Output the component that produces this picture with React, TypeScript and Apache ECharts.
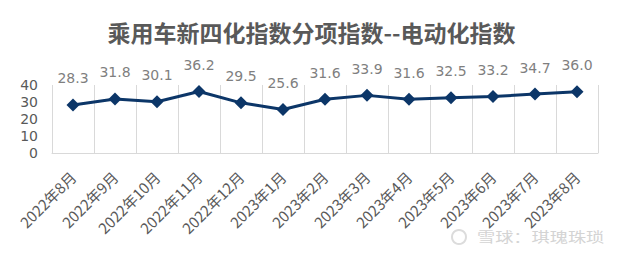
import React, { useEffect, useRef } from "react";
import * as echarts from "echarts";

const categories = [
  "2022年8月", "2022年9月", "2022年10月", "2022年11月", "2022年12月",
  "2023年1月", "2023年2月", "2023年3月", "2023年4月", "2023年5月",
  "2023年6月", "2023年7月", "2023年8月",
];
const values = [28.3, 31.8, 30.1, 36.2, 29.5, 25.6, 31.6, 33.9, 31.6, 32.5, 33.2, 34.7, 36.0];
const title = "乘用车新四化指数分项指数--电动化指数";
const watermark = "雪球：琪瑰珠琐";

export default function App() {
  const ref = useRef<HTMLDivElement>(null);
  useEffect(() => {
    if (!ref.current) return;
    const chart = echarts.init(ref.current, null, { renderer: "svg" });
    chart.setOption({
      animation: false,
      backgroundColor: "#ffffff",
      title: {
        text: title,
        left: "center",
        top: 15,
        textStyle: {
          fontFamily: "Noto Sans CJK SC",
          fontSize: 23,
          fontWeight: "bold",
          color: "#595959",
        },
      },
      grid: { left: 52, right: 25, top: 85, bottom: 102 },
      xAxis: {
        type: "category",
        data: categories,
        boundaryGap: true,
        axisLine: { show: true, lineStyle: { color: "#d9d9d9", width: 1 } },
        axisTick: { show: false },
        splitLine: { show: true, lineStyle: { color: "#d9d9d9", width: 1 } },
        axisLabel: {
          rotate: 45,
          interval: 0,
          margin: 21,
          fontFamily: "Noto Sans CJK SC",
          fontSize: 15,
          color: "#595959",
        },
      },
      yAxis: {
        type: "value",
        min: 0,
        max: 40,
        interval: 10,
        axisLine: { show: false },
        axisTick: { show: false },
        splitLine: { show: false },
        axisLabel: {
          fontFamily: "DejaVu Sans",
          fontSize: 14,
          lineHeight: 14,
          color: "#595959",
          margin: 14,
        },
      },
      series: [
        {
          type: "line",
          data: values,
          symbol: "diamond",
          symbolSize: 13,
          lineStyle: { color: "#0c3668", width: 3 },
          itemStyle: { color: "#0c3668" },
          label: {
            show: true,
            position: "top",
            distance: 13,
            formatter: (p: any) => Number(p.value).toFixed(1),
            fontFamily: "DejaVu Sans",
            fontSize: 14,
            color: "#7f7f7f",
          },
        },
      ],
      graphic: [
        {
          type: "circle",
          shape: { cx: 459, cy: 237, r: 7 },
          style: { fill: "none", stroke: "#dcdcdc", lineWidth: 2 },
        },
        {
          type: "text",
          x: 477,
          y: 229,
          scaleX: 1.3,
          style: {
            text: watermark,
            font: "14px 'Noto Sans CJK SC'",
            fill: "#d4d4d4",
          },
        },
      ],
    });
    return () => chart.dispose();
  }, []);
  return (
    <div
      ref={ref}
      style={{ position: "fixed", left: 0, top: 0, width: 623, height: 255 }}
    />
  );
}
